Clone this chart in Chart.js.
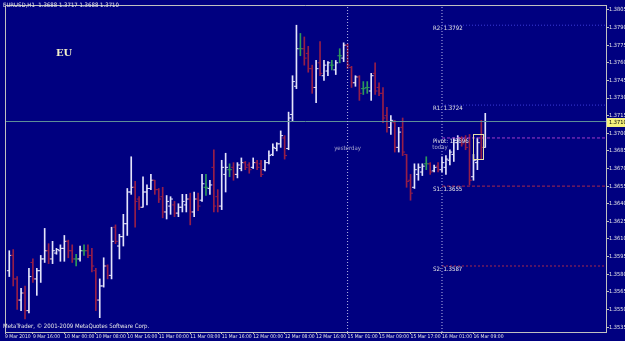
<!DOCTYPE html>
<html>
<head>
<meta charset="utf-8">
<script src="https://cdn.jsdelivr.net/npm/chart.js@4/dist/chart.umd.min.js"></script>
<style>
  html, body { margin: 0; padding: 0; background: #000080; }
  #wrap { width: 625px; height: 341px; }
</style>
</head>
<body>
<div id="wrap"><canvas id="chart" width="625" height="341"></canvas></div>
<script>
// EURUSD H1 bars, oldest first
const opens = [
  1.3583, 1.3596, 1.3576, 1.3558, 1.3564, 1.3549, 1.3590, 1.3576, 1.3583, 1.3593,
  1.3600, 1.3593, 1.3598, 1.3600, 1.3602, 1.3608, 1.3600, 1.3593, 1.3593, 1.3600,
  1.3600, 1.3596, 1.3583, 1.3558, 1.3570, 1.3587, 1.3579, 1.3620, 1.3604, 1.3612,
  1.3623, 1.3650, 1.3654, 1.3644, 1.3637, 1.3650, 1.3653, 1.3660, 1.3652, 1.3646,
  1.3633, 1.3638, 1.3639, 1.3632, 1.3637, 1.3639, 1.3644, 1.3633, 1.3644, 1.3643,
  1.3654, 1.3653, 1.3671, 1.3646, 1.3638, 1.3665, 1.3669, 1.3671, 1.3665, 1.3670,
  1.3675, 1.3673, 1.3671, 1.3675, 1.3674, 1.3669, 1.3675, 1.3682, 1.3687, 1.3691,
  1.3696, 1.3687, 1.3716, 1.3740, 1.3772, 1.3772, 1.3768, 1.3755, 1.3739, 1.3760,
  1.3749, 1.3753, 1.3758, 1.3754, 1.3766, 1.3764, 1.3775, 1.3756, 1.3743, 1.3748,
  1.3738, 1.3739, 1.3736, 1.3751, 1.3739, 1.3734, 1.3715, 1.3705, 1.3709, 1.3688,
  1.3705, 1.3682, 1.3660, 1.3654, 1.3665, 1.3667, 1.3674, 1.3674, 1.3668, 1.3672,
  1.3669, 1.3671, 1.3677, 1.3682, 1.3692, 1.3696, 1.3694, 1.3692, 1.3663, 1.3675,
  1.3696, 1.3688
];
const highs = [
  1.3600, 1.3601, 1.3578, 1.3568, 1.3570, 1.3585, 1.3593, 1.3585, 1.3596, 1.3619,
  1.3606, 1.3608, 1.3602, 1.3605, 1.3613, 1.3609, 1.3605, 1.3597, 1.3604, 1.3605,
  1.3605, 1.3602, 1.3585, 1.3576, 1.3594, 1.3588, 1.3620, 1.3622, 1.3614, 1.3631,
  1.3653, 1.3680, 1.3659, 1.3646, 1.3663, 1.3656, 1.3665, 1.3660, 1.3653, 1.3654,
  1.3647, 1.3646, 1.3642, 1.3640, 1.3648, 1.3648, 1.3649, 1.3650, 1.3649, 1.3665,
  1.3665, 1.3660, 1.3686, 1.3652, 1.3677, 1.3683, 1.3674, 1.3675, 1.3675, 1.3679,
  1.3676, 1.3675, 1.3679, 1.3677, 1.3677, 1.3677, 1.3685, 1.3691, 1.3692, 1.3702,
  1.3698, 1.3718, 1.3749, 1.3792, 1.3785, 1.3782, 1.3774, 1.3758, 1.3762, 1.3778,
  1.3762, 1.3761, 1.3762, 1.3762, 1.3772, 1.3777, 1.3776, 1.3757, 1.3749, 1.3749,
  1.3744, 1.3744, 1.3751, 1.3760, 1.3743, 1.3739, 1.3722, 1.3715, 1.3711, 1.3705,
  1.3713, 1.3682, 1.3665, 1.3674, 1.3674, 1.3674, 1.3680, 1.3675, 1.3673, 1.3675,
  1.3680, 1.3681, 1.3686, 1.3696, 1.3698, 1.3697, 1.3698, 1.3699, 1.3682, 1.3696,
  1.3711, 1.3717
];
const lows = [
  1.3578, 1.3570, 1.3550, 1.3549, 1.3542, 1.3547, 1.3573, 1.3562, 1.3573, 1.3590,
  1.3589, 1.3589, 1.3597, 1.3591, 1.3591, 1.3594, 1.3590, 1.3587, 1.3591, 1.3596,
  1.3594, 1.3582, 1.3549, 1.3543, 1.3569, 1.3576, 1.3576, 1.3606, 1.3593, 1.3604,
  1.3613, 1.3648, 1.3620, 1.3635, 1.3637, 1.3639, 1.3652, 1.3648, 1.3641, 1.3628,
  1.3627, 1.3631, 1.3629, 1.3629, 1.3633, 1.3633, 1.3622, 1.3629, 1.3634, 1.3642,
  1.3647, 1.3648, 1.3633, 1.3633, 1.3635, 1.3650, 1.3663, 1.3660, 1.3662, 1.3668,
  1.3669, 1.3666, 1.3670, 1.3669, 1.3663, 1.3668, 1.3674, 1.3681, 1.3685, 1.3688,
  1.3678, 1.3686, 1.3710, 1.3738, 1.3766, 1.3758, 1.3752, 1.3734, 1.3726, 1.3749,
  1.3745, 1.3749, 1.3754, 1.3750, 1.3760, 1.3761, 1.3755, 1.3739, 1.3740, 1.3728,
  1.3733, 1.3734, 1.3728, 1.3733, 1.3732, 1.3709, 1.3701, 1.3699, 1.3684, 1.3684,
  1.3681, 1.3654, 1.3643, 1.3653, 1.3660, 1.3664, 1.3669, 1.3665, 1.3667, 1.3667,
  1.3667, 1.3665, 1.3673, 1.3676, 1.3686, 1.3689, 1.3686, 1.3656, 1.3660, 1.3669,
  1.3678, 1.3688
];
const closes = [
  1.3596, 1.3576, 1.3558, 1.3564, 1.3549, 1.3578, 1.3576, 1.3583, 1.3593, 1.3600,
  1.3593, 1.3600, 1.3601, 1.3602, 1.3608, 1.3600, 1.3593, 1.3593, 1.3600, 1.3600,
  1.3596, 1.3587, 1.3558, 1.3570, 1.3587, 1.3579, 1.3608, 1.3608, 1.3612, 1.3623,
  1.3650, 1.3654, 1.3642, 1.3637, 1.3650, 1.3653, 1.3660, 1.3652, 1.3644, 1.3633,
  1.3642, 1.3644, 1.3632, 1.3637, 1.3642, 1.3644, 1.3633, 1.3644, 1.3638, 1.3657,
  1.3654, 1.3656, 1.3638, 1.3638, 1.3671, 1.3671, 1.3669, 1.3665, 1.3673, 1.3675,
  1.3671, 1.3669, 1.3675, 1.3671, 1.3665, 1.3675, 1.3681, 1.3688, 1.3691, 1.3698,
  1.3681, 1.3713, 1.3744, 1.3772, 1.3772, 1.3764, 1.3755, 1.3739, 1.3755, 1.3751,
  1.3758, 1.3760, 1.3758, 1.3760, 1.3766, 1.3775, 1.3758, 1.3743, 1.3748, 1.3734,
  1.3738, 1.3739, 1.3749, 1.3736, 1.3734, 1.3713, 1.3705, 1.3711, 1.3688, 1.3701,
  1.3684, 1.3659, 1.3649, 1.3669, 1.3671, 1.3672, 1.3674, 1.3667, 1.3671, 1.3669,
  1.3675, 1.3678, 1.3684, 1.3694, 1.3696, 1.3691, 1.3688, 1.3660, 1.3677, 1.3692,
  1.3688, 1.3710
];

// axis labels
const yTicks = [1.3805, 1.3790, 1.3775, 1.3760, 1.3745, 1.3730, 1.3715, 1.3700, 1.3685, 1.3670,
                1.3655, 1.3640, 1.3625, 1.3610, 1.3595, 1.3580, 1.3565, 1.3550, 1.3535];
const firstTimeLabel = '9 Mar 2010';
const xTickBars = [6, 14, 22, 30, 38, 46, 54, 62, 70, 78, 86, 94, 102, 110, 118];
const xTickText = ['9 Mar 16:00', '10 Mar 00:00', '10 Mar 08:00', '10 Mar 16:00', '11 Mar 00:00',
                   '11 Mar 08:00', '11 Mar 16:00', '12 Mar 00:00', '12 Mar 08:00', '12 Mar 16:00',
                   '15 Mar 01:00', '15 Mar 09:00', '15 Mar 17:00', '16 Mar 01:00', '16 Mar 09:00'];

// pivot levels
const pivotNames = ['R2', 'R1', 'Pivot', 'S1', 'S2'];
const pivotValues = [1.3792, 1.3724, 1.3696, 1.3655, 1.3587];
const pivotColors = ['#3c3cd8', '#3c3cd8', '#a23cc8', '#a8284c', '#a8284c'];
const pivotDash = [[1, 2], [1, 2], [3, 2], [3, 2], [2, 2]];

const yesterdayBar = 86;
const todayBar = 110;
const bidPrice = 1.3710;
const boxBars = [118.0, 120.45];
const boxPrices = [1.3699, 1.3678];
const titleText = 'EURUSD,H1  1.3688 1.3717 1.3688 1.3710';

// colors
const BG = '#000080';
const AXIS = '#c0c0c0';
const TEXT = '#e8e8e8';
const BULL = '#e4e4fa';
const BEAR = '#961e48';
const DOJI = '#2e9a5a';
const FONT = '"Liberation Sans Narrow", "DejaVu Sans Condensed", "Liberation Sans", sans-serif';

// scale ranges (bar 0 sits 5px from the left edge, ~3.96px per bar)
const X_MIN = -1.086, X_MAX = 151.69;
const Y_MIN = 1.35308, Y_MAX = 1.380921;

const barColor = i => closes[i] > opens[i] ? BULL : (closes[i] < opens[i] ? BEAR : DOJI);
const idx = opens.map((_, i) => i);
const colorsList = idx.map(barColor);

const hLine = (y, from, to) => [{x: from, y: y}, {x: to, y: y}];

const datasets = [];

// vertical day separators
[yesterdayBar, todayBar].forEach(b => {
    datasets.push({
        type: 'line', order: 0,
        data: [{x: b, y: Y_MIN}, {x: b, y: Y_MAX}],
        borderColor: '#b8b8e8', borderWidth: 1, borderDash: [1, 2],
        pointRadius: 0, tension: 0
    });
});

// bid line
datasets.push({
    type: 'line', order: 0,
    data: hLine(bidPrice, X_MIN, X_MAX),
    borderColor: '#5f9098', borderWidth: 1,
    pointRadius: 0, tension: 0
});

// pivot lines
pivotValues.forEach((v, k) => {
    datasets.push({
        type: 'line', order: 1,
        data: hLine(v, todayBar, X_MAX),
        borderColor: pivotColors[k], borderWidth: 1, borderDash: pivotDash[k],
        pointRadius: 0, tension: 0
    });
});

// open ticks (left) and close ticks (right)
datasets.push({
    type: 'line', order: 2, showLine: false,
    data: idx.map(i => ({x: i - 0.3, y: opens[i]})),
    pointStyle: 'line', pointRadius: 1.2, pointBorderWidth: 1,
    pointBorderColor: colorsList, pointBackgroundColor: colorsList
});
datasets.push({
    type: 'line', order: 2, showLine: false,
    data: idx.map(i => ({x: i + 0.3, y: closes[i]})),
    pointStyle: 'line', pointRadius: 1.2, pointBorderWidth: 1,
    pointBorderColor: colorsList, pointBackgroundColor: colorsList
});

// high-low bars
datasets.push({
    type: 'bar', order: 3,
    data: idx.map(i => ({x: i, y: [lows[i], highs[i]]})),
    backgroundColor: colorsList,
    borderWidth: 0, barThickness: 1, grouped: false
});

const overlay = {
    id: 'overlay',
    beforeDraw(chart) {
        const ctx = chart.ctx;
        ctx.save();
        ctx.fillStyle = BG;
        ctx.fillRect(0, 0, chart.width, chart.height);
        ctx.restore();
    },
    afterDraw(chart) {
        const {ctx, chartArea: a, scales: {x, y}} = chart;
        ctx.save();

        // frame top / left
        ctx.strokeStyle = AXIS;
        ctx.lineWidth = 1;
        ctx.beginPath();
        ctx.moveTo(a.left + 0.5, a.bottom);
        ctx.lineTo(a.left + 0.5, a.top + 0.5);
        ctx.lineTo(a.right, a.top + 0.5);
        ctx.stroke();

        // yellow box around the last bars
        const bx0 = x.getPixelForValue(boxBars[0]), bx1 = x.getPixelForValue(boxBars[1]);
        const by0 = y.getPixelForValue(boxPrices[0]), by1 = y.getPixelForValue(boxPrices[1]);
        ctx.strokeStyle = '#e6e0a8';
        ctx.strokeRect(Math.round(bx0) + 0.5, Math.round(by0) + 0.5, Math.round(bx1 - bx0), Math.round(by1 - by0));

        ctx.textBaseline = 'middle';
        ctx.fillStyle = TEXT;
        ctx.font = '6px ' + FONT;
        ctx.textAlign = 'left';
        ctx.fillText(titleText, 3, 5);
        ctx.fillText('MetaTrader, \u00a9 2001-2009 MetaQuotes Software Corp.', 3, 326);

        ctx.font = 'bold 10px "DejaVu Serif", "Liberation Serif", serif';
        ctx.fillStyle = '#f2f0c8';
        ctx.fillText('EU', 56, 53);

        // pivot labels
        ctx.font = '6px ' + FONT;
        ctx.fillStyle = TEXT;
        const lx = x.getPixelForValue(todayBar) - 9;
        pivotValues.forEach((v, k) => {
            ctx.fillText(pivotNames[k] + ': ' + v.toFixed(4), lx, y.getPixelForValue(v) + 3);
        });

        // day labels
        ctx.fillStyle = '#a8a8d0';
        ctx.textAlign = 'center';
        ctx.fillText('yesterday', x.getPixelForValue(yesterdayBar), a.top + 143);
        ctx.fillText('today', x.getPixelForValue(todayBar) - 2, a.top + 142);

        // current price tag
        const py = Math.round(y.getPixelForValue(bidPrice));
        ctx.fillStyle = '#f4f07c';
        ctx.fillRect(a.right + 1, py - 4, 18, 9);
        ctx.fillStyle = '#000000';
        ctx.textAlign = 'left';
        ctx.font = '5.6px ' + FONT;
        ctx.fillText(bidPrice.toFixed(4), a.right + 3, py + 0.5);

        ctx.restore();
    }
};

new Chart(document.getElementById('chart'), {
    type: 'bar',
    data: { datasets: datasets },
    options: {
        responsive: false,
        animation: false,
        events: [],
        devicePixelRatio: 1,
        layout: { padding: { left: 1, top: 1, right: 0, bottom: 0 } },
        plugins: { legend: { display: false }, tooltip: { enabled: false } },
        scales: {
            x: {
                type: 'linear', offset: false, min: X_MIN, max: X_MAX,
                grid: { offset: false, drawOnChartArea: false, color: AXIS, tickLength: 2 },
                border: { color: AXIS },
                ticks: {
                    autoSkip: false, maxRotation: 0, minRotation: 0, align: 'start', padding: 0,
                    color: TEXT, font: { family: FONT, size: 5 },
                    callback: (v, i) => i === 0 ? firstTimeLabel : xTickText[i - 1]
                },
                afterBuildTicks: s => {
                    s.ticks = [{value: X_MIN}].concat(xTickBars.map(b => ({value: b})));
                },
                afterFit: s => { s.height = 9; }
            },
            y: {
                type: 'linear', position: 'right', min: Y_MIN, max: Y_MAX,
                grid: { drawOnChartArea: false, color: AXIS, tickLength: 3 },
                border: { color: AXIS },
                ticks: {
                    color: TEXT, padding: 0, font: { family: FONT, size: 5.6 },
                    callback: v => v.toFixed(4)
                },
                afterBuildTicks: s => { s.ticks = yTicks.map(v => ({value: v})); },
                afterFit: s => { s.width = 19; }
            }
        }
    },
    plugins: [overlay]
});
</script>
</body>
</html>
